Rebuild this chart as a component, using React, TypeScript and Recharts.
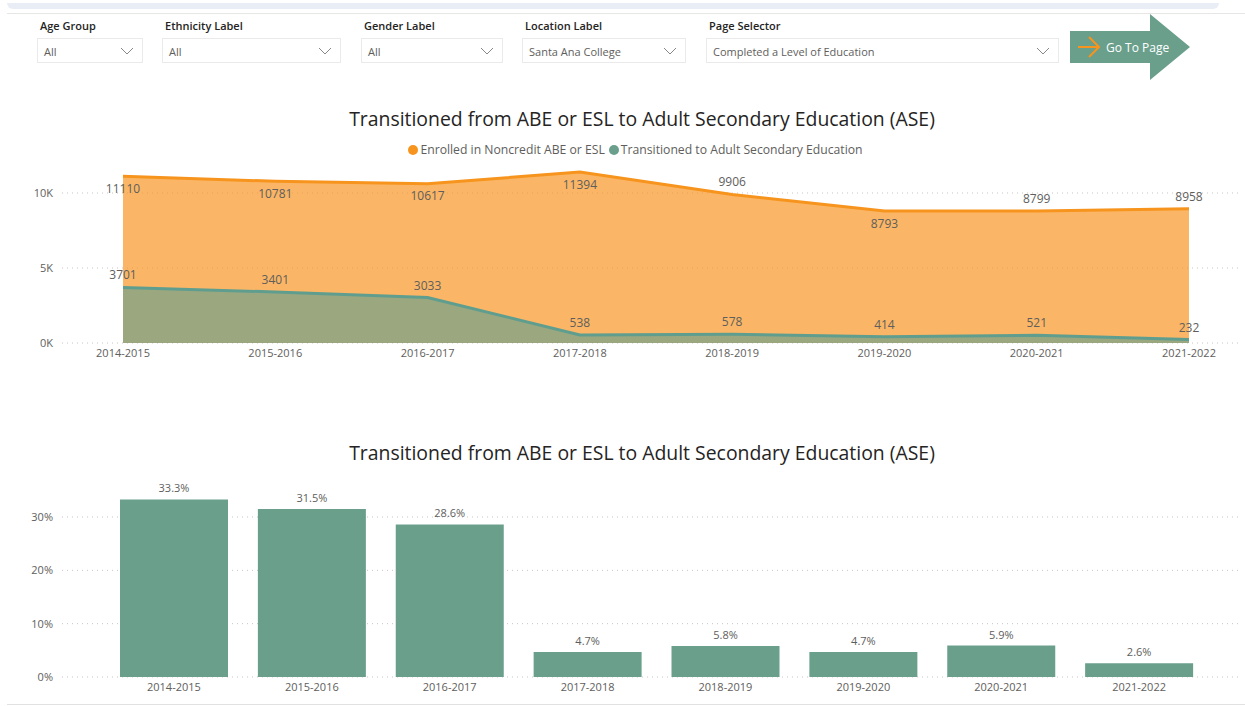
import React from "react";
import {
  Area,
  AreaChart,
  Bar,
  BarChart,
  CartesianGrid,
  LabelList,
  Legend,
  XAxis,
  YAxis,
} from "recharts";

const years = [
  "2014-2015",
  "2015-2016",
  "2016-2017",
  "2017-2018",
  "2018-2019",
  "2019-2020",
  "2020-2021",
  "2021-2022",
];
const enrolled = [11110, 10781, 10617, 11394, 9906, 8793, 8799, 8958];
const transitioned = [3701, 3401, 3033, 538, 578, 414, 521, 232];
const transitionRate = [33.3, 31.5, 28.6, 4.7, 5.8, 4.7, 5.9, 2.6];

// where Power BI put each enrolled label relative to its point
const enrolledLabelSide = ["below", "below", "below", "below", "above", "below", "above", "above"];

const countTicks = [0, 5000, 10000];
const rateTicks = [0, 10, 20, 30];

const filters = [
  { label: "Age Group", value: "All", left: 37, width: 106 },
  { label: "Ethnicity Label", value: "All", left: 162, width: 179 },
  { label: "Gender Label", value: "All", left: 361, width: 142 },
  { label: "Location Label", value: "Santa Ana College", left: 522, width: 164 },
  { label: "Page Selector", value: "Completed a Level of Education", left: 706, width: 353 },
];

const ORANGE = "#F7941D";
const TEAL = "#6A9F8C";
const TEXT = "#605E5C";
const FONT = "'Segoe UI', 'Open Sans', sans-serif";
const TITLE = "Transitioned from ABE or ESL to Adult Secondary Education (ASE)";

const countRows = years.map((year, i) => ({
  year,
  enrolled: enrolled[i],
  transitioned: transitioned[i],
}));
const rateRows = years.map((year, i) => ({ year, rate: transitionRate[i] }));

const legendItems = [
  { name: "Enrolled in Noncredit ABE or ESL", color: ORANGE },
  { name: "Transitioned to Adult Secondary Education", color: TEAL },
];

function ChartLegend() {
  return (
    <div
      style={{
        width: 1245,
        height: 20,
        paddingLeft: 30,
        boxSizing: "border-box",
        display: "flex",
        justifyContent: "center",
        alignItems: "flex-start",
        fontSize: 12.2,
        lineHeight: "14px",
        color: TEXT,
        fontFamily: FONT,
      }}
    >
      {legendItems.map((it) => (
        <span key={it.name} style={{ display: "flex", alignItems: "center", marginRight: 4 }}>
          <span
            style={{
              width: 10,
              height: 10,
              borderRadius: 5,
              background: it.color,
              marginRight: 2,
              display: "inline-block",
            }}
          />
          {it.name}
        </span>
      ))}
    </div>
  );
}

const pointLabel =
  (sides: string[] | null) =>
  (props: any) => {
    const { x, y, value, index } = props;
    const below = sides ? sides[index] === "below" : false;
    return (
      <text
        x={x}
        y={below ? y + 12 : y - 12.5}
        textAnchor="middle"
        dominantBaseline="central"
        fontSize={12}
        fill={TEXT}
        fontFamily={FONT}
      >
        {value}
      </text>
    );
  };

function Dropdown({ label, value, left, width }: (typeof filters)[number]) {
  return (
    <>
      <div
        style={{
          position: "absolute",
          left: left + 3,
          top: 18,
          fontSize: 11,
          fontWeight: 600,
          color: "#252423",
          lineHeight: "16px",
        }}
      >
        {label}
      </div>
      <div
        style={{
          position: "absolute",
          left,
          top: 38,
          width,
          height: 25,
          boxSizing: "border-box",
          border: "1px solid #EAEAEA",
          fontSize: 11,
          color: TEXT,
          lineHeight: "25px",
          paddingLeft: 6,
        }}
      >
        {value}
        <svg width={14} height={8} style={{ position: "absolute", right: 8, top: 8 }}>
          <polyline points="1,1 7,7 13,1" fill="none" stroke="#8A8886" strokeWidth={1} />
        </svg>
      </div>
    </>
  );
}

const titleStyle: React.CSSProperties = {
  position: "absolute",
  left: 0,
  width: 1284,
  textAlign: "center",
  fontSize: 19.4,
  lineHeight: "26px",
  color: "#252423",
};

export default function App() {
  return (
    <div
      style={{
        position: "relative",
        width: 1245,
        height: 706,
        overflow: "hidden",
        background: "#fff",
        fontFamily: FONT,
      }}
    >
      <style>{"body{margin:0}"}</style>

      {/* report header */}
      <div
        style={{
          position: "absolute",
          left: 7,
          top: 3,
          width: 1212,
          height: 6,
          background: "#E9EDF6",
          borderRadius: "0 0 6px 6px",
        }}
      />
      <div
        style={{ position: "absolute", left: 7, right: 0, top: 13, height: 1, background: "#E6E6E6" }}
      />
      {filters.map((f) => (
        <Dropdown key={f.label} {...f} />
      ))}
      <svg width={125} height={70} style={{ position: "absolute", left: 1068, top: 12 }}>
        <polygon points="2,19 82,19 82,2 122,35 82,68 82,51 2,51" fill={TEAL} />
        <line x1={10} y1={35} x2={31} y2={35} stroke={ORANGE} strokeWidth={2} />
        <polyline points="21,25 31,35 21,45" fill="none" stroke={ORANGE} strokeWidth={2} />
        <text x={38} y={35} dominantBaseline="central" fontSize={12} fill="#fff" fontFamily={FONT}>
          Go To Page
        </text>
      </svg>

      {/* counts */}
      <div style={{ ...titleStyle, top: 106 }}>{TITLE}</div>
      <div style={{ position: "absolute", left: 0, top: 140 }}>
        <AreaChart
          width={1245}
          height={225}
          data={countRows}
          margin={{ top: 3, right: 5, left: 0, bottom: 0 }}
        >
          <Legend verticalAlign="top" align="left" content={() => <ChartLegend />} />
          <CartesianGrid vertical={false} stroke="#C8C6C4" strokeDasharray="1 4" syncWithTicks />
          <XAxis
            dataKey="year"
            axisLine={false}
            tickLine={false}
            tickSize={0}
            tickMargin={6}
            padding={{ left: 61, right: 51 }}
            tick={{ fill: TEXT, fontSize: 11, fontFamily: FONT }}
            height={22}
          />
          <YAxis
            width={62}
            domain={[0, 12000]}
            ticks={countTicks}
            axisLine={false}
            tickLine={false}
            tickSize={0}
            tickMargin={9}
            tickFormatter={(v: number) => `${v / 1000}K`}
            tick={{ fill: TEXT, fontSize: 11, fontFamily: FONT }}
          />
          <Area
            type="linear"
            dataKey="enrolled"
            name="Enrolled in Noncredit ABE or ESL"
            stroke={ORANGE}
            strokeWidth={3}
            fill={ORANGE}
            fillOpacity={0.68}
            isAnimationActive={false}
            dot={false}
            activeDot={false}
          >
            <LabelList dataKey="enrolled" content={pointLabel(enrolledLabelSide)} />
          </Area>
          <Area
            type="linear"
            dataKey="transitioned"
            name="Transitioned to Adult Secondary Education"
            stroke="#5F9E8F"
            strokeWidth={3}
            fill={TEAL}
            fillOpacity={0.66}
            isAnimationActive={false}
            dot={false}
            activeDot={false}
          >
            <LabelList dataKey="transitioned" content={pointLabel(null)} />
          </Area>
        </AreaChart>
      </div>

      {/* rate */}
      <div style={{ ...titleStyle, top: 440 }}>{TITLE}</div>
      <div style={{ position: "absolute", left: 0, top: 475 }}>
        <BarChart
          width={1245}
          height={224}
          data={rateRows}
          margin={{ top: 10, right: 5, left: 0, bottom: 0 }}
        >
          <CartesianGrid vertical={false} stroke="#C8C6C4" strokeDasharray="1 4" syncWithTicks />
          <XAxis
            dataKey="year"
            axisLine={false}
            tickLine={false}
            tickSize={0}
            tickMargin={6}
            padding={{ left: 43, right: 32 }}
            tick={{ fill: TEXT, fontSize: 11, fontFamily: FONT }}
            height={22}
          />
          <YAxis
            width={62}
            domain={[0, 36]}
            ticks={rateTicks}
            axisLine={false}
            tickLine={false}
            tickSize={0}
            tickMargin={9}
            tickFormatter={(v: number) => `${v}%`}
            tick={{ fill: TEXT, fontSize: 11, fontFamily: FONT }}
          />
          <Bar dataKey="rate" fill={TEAL} barSize={108} isAnimationActive={false}>
            <LabelList
              dataKey="rate"
              position="top"
              offset={7}
              formatter={(v: any) => `${v}%`}
              style={{ fill: TEXT, fontSize: 11, fontFamily: FONT }}
            />
          </Bar>
        </BarChart>
      </div>
      <div
        style={{ position: "absolute", left: 7, right: 0, top: 704, height: 1, background: "#E1E1E1" }}
      />
    </div>
  );
}
